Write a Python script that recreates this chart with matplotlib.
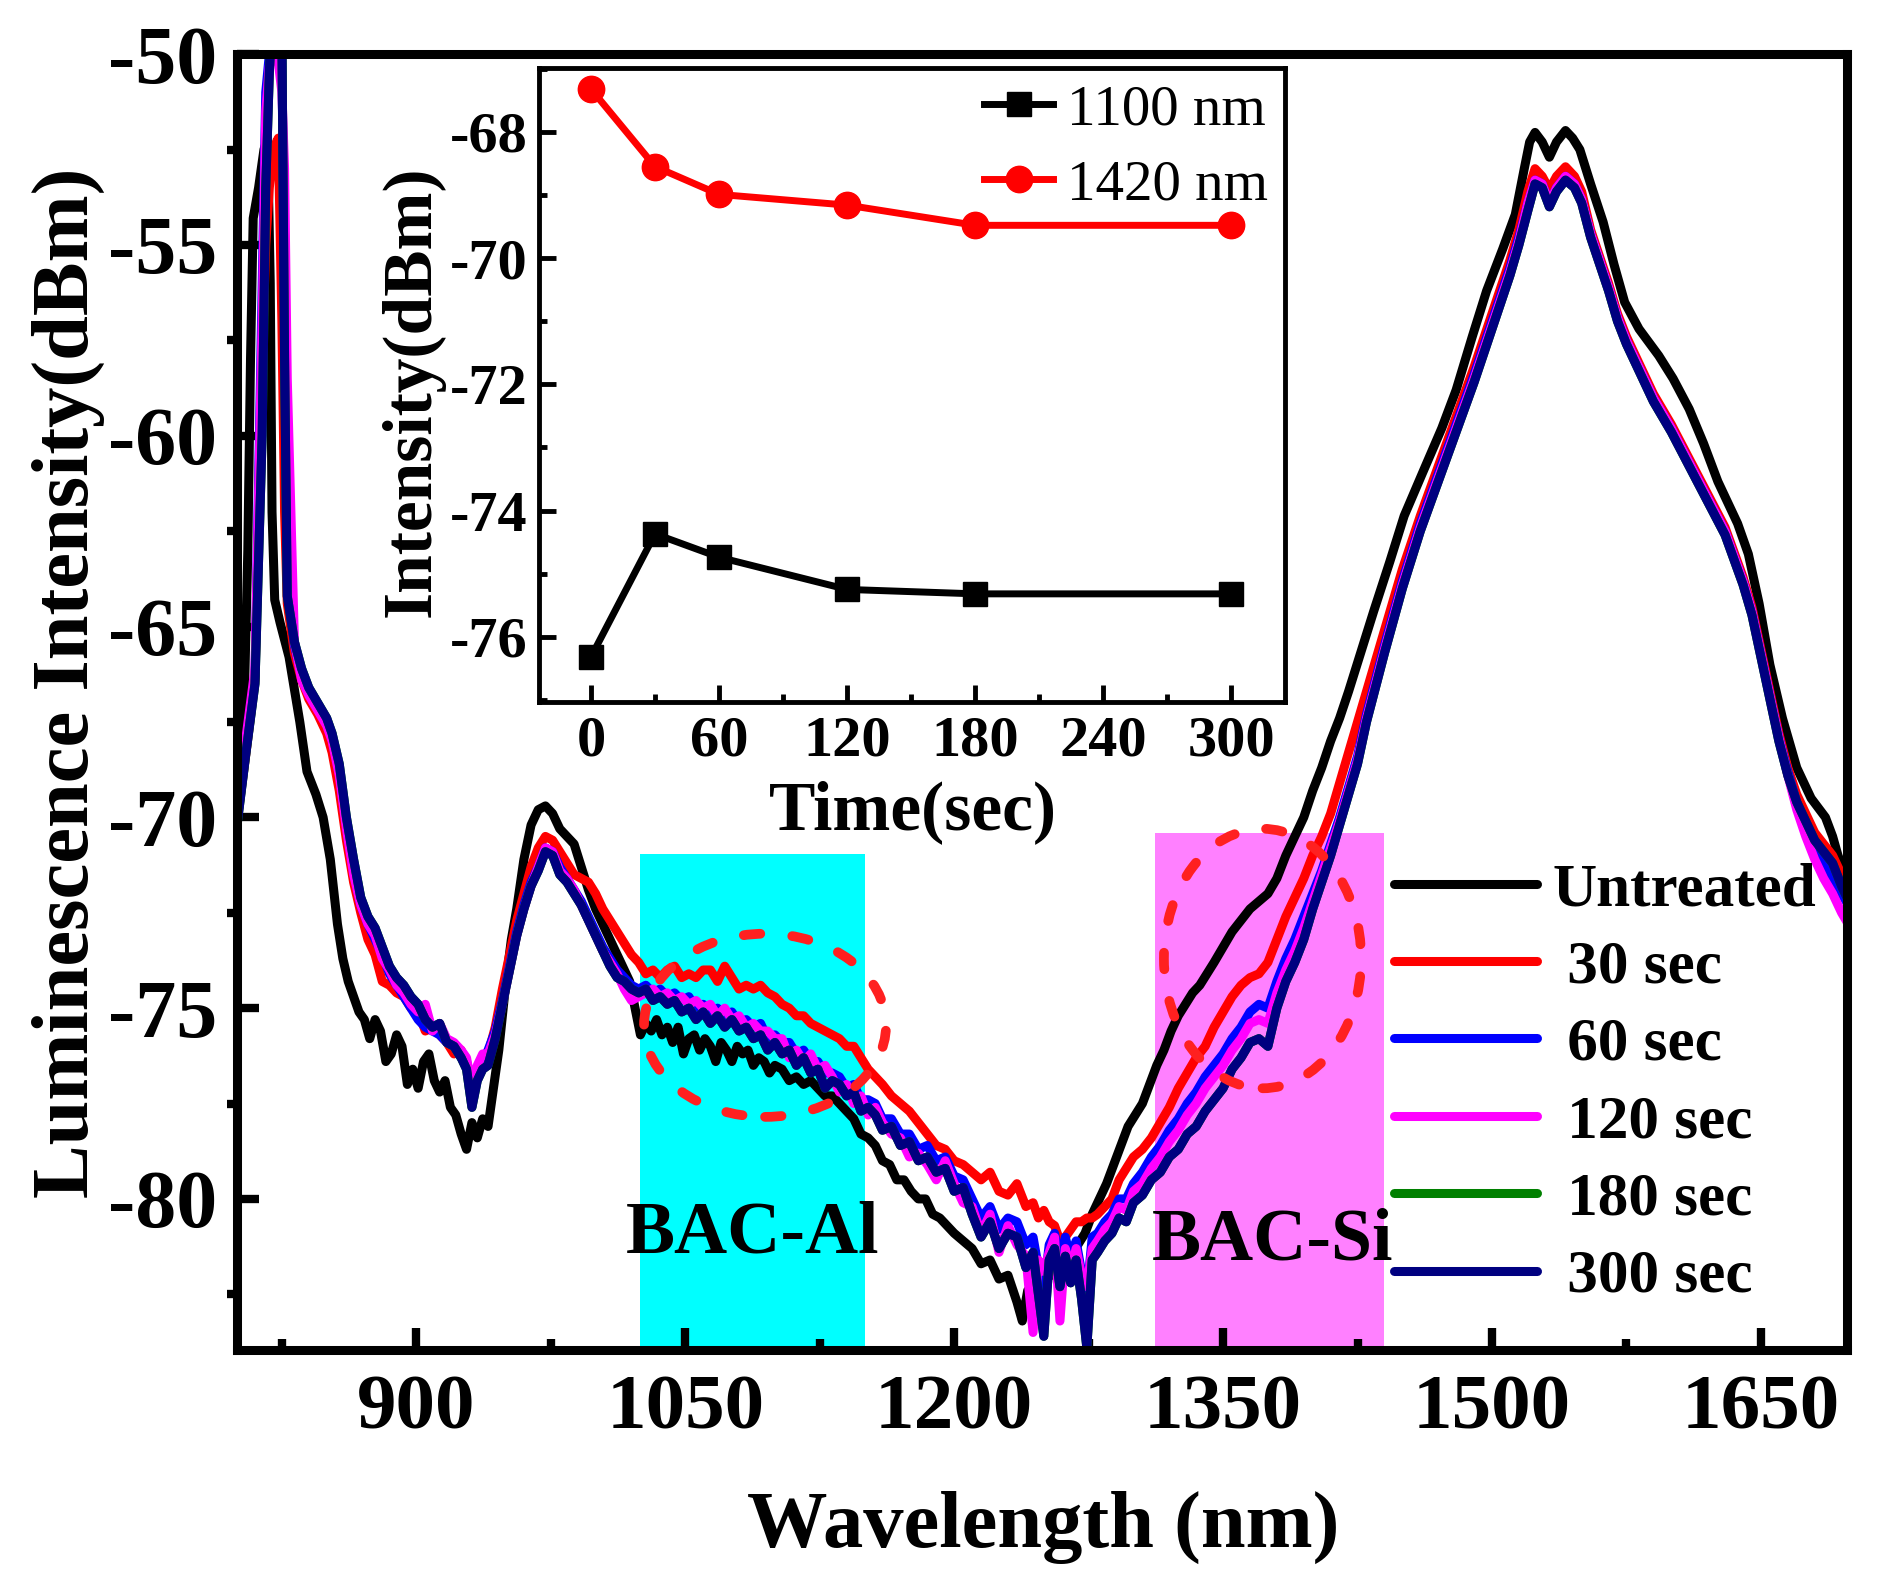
import matplotlib
matplotlib.use('Agg')
import matplotlib.pyplot as plt
from matplotlib.patches import Ellipse, Rectangle
from matplotlib.ticker import MultipleLocator

plt.rcParams['font.family'] = ['Liberation Serif', 'DejaVu Serif']
plt.rcParams['axes.unicode_minus'] = False

# ---------------- data: untreated spectrum ----------------
wl_untreated = [
    800, 802, 804, 806, 807.5, 809, 812, 815, 817, 818.5,
    819.5, 821, 824, 829, 835, 839, 844, 848, 852, 856,
    859, 862, 865, 868, 871, 874, 877, 880, 883, 886,
    889, 892, 895, 898, 901, 904, 907, 910, 913, 916,
    919, 922, 925, 928, 931, 934, 937, 940, 943, 946,
    950, 953, 956, 960, 964, 968, 972, 976, 980, 984,
    988, 992, 996, 1000, 1005, 1010, 1015, 1019, 1022, 1025,
    1028, 1031, 1034, 1037, 1040, 1043, 1046, 1049, 1052, 1055,
    1058, 1061, 1064, 1067, 1070, 1073, 1076, 1079, 1082, 1085,
    1088, 1091, 1094, 1097, 1100, 1104, 1108, 1112, 1116, 1120,
    1124, 1128, 1132, 1136, 1140, 1144, 1148, 1152, 1156, 1160,
    1164, 1168, 1172, 1176, 1180, 1184, 1188, 1192, 1196, 1200,
    1205, 1210, 1215, 1220, 1225, 1230, 1235, 1238, 1241, 1245,
    1249, 1253, 1257, 1261, 1265, 1269, 1273, 1277, 1281, 1285,
    1289, 1293, 1297, 1301, 1305, 1309, 1313, 1317, 1321, 1325,
    1329, 1333, 1337, 1341, 1345, 1350, 1355, 1360, 1365, 1370,
    1375, 1380, 1385, 1390, 1395, 1400, 1405, 1410, 1415, 1420,
    1426, 1434, 1443, 1451, 1461, 1472, 1480, 1489, 1497, 1506,
    1513, 1518, 1521, 1524, 1528, 1532, 1536, 1541, 1545, 1549,
    1555, 1562, 1568, 1574, 1582, 1593, 1601, 1610, 1618, 1626,
    1637, 1643, 1649, 1655, 1662, 1670, 1678, 1686, 1690, 1693,
    1697, 1700]
untreated = [
    -70.2, -68.5, -67.0, -63.0, -58.0, -54.3, -53.5, -52.5, -52.2, -56.0,
    -62.0, -64.3, -64.9, -65.8, -67.5, -68.8, -69.4, -70.0, -71.1, -72.8,
    -73.7, -74.3, -74.7, -75.1, -75.3, -75.8, -75.3, -75.6, -76.4, -76.2,
    -75.7, -76.0, -77.0, -76.6, -77.1, -76.4, -76.2, -76.9, -77.2, -76.9,
    -77.6, -77.8, -78.3, -78.7, -78.0, -78.4, -77.9, -78.1, -77.1, -76.1,
    -74.3, -73.2, -72.4, -71.1, -70.2, -69.8, -69.7, -69.9, -70.3, -70.5,
    -70.7, -71.3, -71.9, -72.4, -72.9, -73.4, -73.9, -74.3, -75.0, -75.7,
    -75.4, -75.6, -75.3, -75.7, -75.5, -75.9, -75.5, -76.2, -75.8, -75.7,
    -76.1, -75.8, -76.0, -76.4, -75.9, -76.1, -76.4, -76.0, -76.2, -76.1,
    -76.5, -76.3, -76.4, -76.7, -76.5, -76.6, -76.9, -76.8, -77.0, -76.9,
    -77.1, -77.3, -77.3, -77.5, -77.7, -77.9, -78.3, -78.4, -78.6, -79.0,
    -79.1, -79.5, -79.5, -79.8, -80.0, -80.0, -80.4, -80.5, -80.7, -80.9,
    -81.1, -81.3, -81.7, -81.6, -82.1, -82.0, -82.7, -83.2, -82.4, -82.5,
    -82.1, -82.0, -82.0, -81.6, -81.5, -81.2, -80.9, -80.4, -80.0, -79.6,
    -79.1, -78.6, -78.1, -77.8, -77.5, -77.0, -76.5, -76.1, -75.6, -75.2,
    -74.9, -74.6, -74.4, -74.1, -73.8, -73.4, -73.0, -72.7, -72.4, -72.2,
    -72.0, -71.6, -71.0, -70.5, -70.0, -69.3, -68.7, -68.0, -67.4, -66.7,
    -65.8, -64.6, -63.3, -62.1, -61.0, -59.8, -58.8, -57.4, -56.2, -55.1,
    -54.2, -53.0, -52.3, -52.05, -52.3, -52.7, -52.3, -52.0, -52.2, -52.5,
    -53.4, -54.4, -55.5, -56.5, -57.2, -57.9, -58.5, -59.3, -60.2, -61.2,
    -62.3, -63.1, -64.4, -66.0, -67.4, -68.7, -69.5, -70.0, -70.5, -71.0,
    -71.5, -71.8]

# ---------------- data: treated spectra (common wavelength grid) ----------------
wl_treated = [
    800, 805, 810, 814, 816, 818, 820, 823, 825, 826.5,
    828, 832, 836, 840, 845, 850, 853, 857, 861, 865,
    869, 873, 877, 881, 885, 889, 893, 897, 901, 905,
    909, 913, 917, 921, 925, 928, 931, 934, 937, 940,
    944, 948, 952, 956, 960, 964, 968, 972, 976, 980,
    984, 988, 992, 996, 1000, 1004, 1008, 1012, 1016, 1020,
    1024, 1028, 1032, 1036, 1040, 1044, 1048, 1052, 1056, 1060,
    1064, 1068, 1072, 1076, 1080, 1084, 1088, 1092, 1096, 1100,
    1104, 1108, 1112, 1116, 1120, 1124, 1128, 1132, 1136, 1140,
    1144, 1148, 1152, 1156, 1160, 1165, 1170, 1175, 1180, 1185,
    1190, 1195, 1200, 1205, 1210, 1215, 1220, 1225, 1230, 1235,
    1240, 1244, 1247, 1250, 1253, 1256, 1259, 1262, 1265, 1268,
    1271, 1274, 1277, 1280, 1284, 1288, 1292, 1296, 1300, 1305,
    1310, 1315, 1320, 1325, 1330, 1335, 1340, 1345, 1350, 1355,
    1360, 1365, 1370, 1375, 1380, 1385, 1390, 1395, 1400, 1405,
    1410, 1415, 1420, 1425, 1430, 1435, 1440, 1450, 1460, 1470,
    1480, 1490, 1500, 1510, 1515, 1520, 1524, 1528, 1532, 1536,
    1541, 1546, 1550, 1555, 1560, 1565, 1570, 1575, 1580, 1590,
    1600, 1610, 1620, 1630, 1640, 1645, 1650, 1655, 1660, 1665,
    1670, 1675, 1680, 1685, 1690, 1695, 1700]

sec30 = [
    -70.1, -68.3, -66.4, -58.0, -55.0, -53.5, -52.5, -52.2, -57.0, -62.0,
    -64.4, -65.7, -66.4, -66.9, -67.3, -67.8, -68.3, -69.3, -70.6, -71.7,
    -72.5, -73.2, -73.6, -74.3, -74.4, -74.6, -74.7, -75.0, -75.1, -75.6,
    -75.5, -75.7, -75.9, -76.2, -76.1, -76.5, -76.8, -76.6, -76.3, -76.2,
    -75.5, -74.5, -73.6, -72.7, -72.0, -71.3, -70.8, -70.5, -70.6, -70.9,
    -71.2, -71.5, -71.6, -71.7, -72.0, -72.4, -72.7, -73.0, -73.3, -73.6,
    -73.8, -74.1, -74.0, -74.2, -74.0, -73.9, -74.2, -74.1, -74.2, -74.0,
    -74.0, -74.3, -73.9, -74.2, -74.5, -74.4, -74.5, -74.4, -74.6, -74.7,
    -74.9, -75.0, -75.2, -75.2, -75.4, -75.5, -75.6, -75.7, -75.8, -76.0,
    -76.0, -76.3, -76.6, -76.8, -77.0, -77.3, -77.5, -77.7, -78.0, -78.3,
    -78.6, -78.7, -79.0, -79.1, -79.3, -79.5, -79.3, -79.8, -79.9, -79.6,
    -80.2, -80.1, -80.5, -80.3, -80.6, -80.7, -81.1, -81.0, -80.8, -80.6,
    -80.6, -80.5, -80.5, -80.4, -80.2, -80.0, -79.5, -79.2, -78.9, -78.7,
    -78.4, -78.0, -77.6, -77.1, -76.7, -76.3, -76.0, -75.5, -75.1, -74.7,
    -74.4, -74.2, -74.1, -73.8, -73.2, -72.6, -72.1, -71.6, -71.0, -70.5,
    -69.9, -69.1, -68.3, -67.5, -66.7, -65.9, -65.1, -63.5, -62.1, -60.8,
    -59.5, -58.2, -56.8, -55.4, -54.6, -53.6, -53.0, -53.2, -53.55, -53.2,
    -52.95, -53.2, -53.6, -54.6, -55.3, -56.0, -56.8, -57.4, -57.9, -58.9,
    -59.7, -60.6, -61.5, -62.4, -63.7, -64.5, -65.6, -66.7, -67.8, -68.7,
    -69.4, -69.9, -70.4, -70.7, -71.0, -71.5, -72.0]

sec60 = [
    -70.1, -68.1, -66.3, -56.0, -51.0, -50.0, -48.5, -48.3, -50.0, -57.0,
    -63.8, -65.5, -66.3, -66.7, -67.1, -67.5, -67.9, -68.8, -70.2, -71.4,
    -72.3, -72.8, -73.2, -73.6, -74.1, -74.4, -74.7, -75.0, -75.3, -75.5,
    -75.6, -75.7, -75.9, -76.0, -76.3, -76.4, -76.9, -76.7, -76.4, -76.1,
    -75.6, -74.8, -73.9, -73.0, -72.3, -71.7, -71.3, -70.8, -70.9, -71.3,
    -71.6, -71.9, -72.2, -72.6, -73.0, -73.4, -73.7, -74.0, -74.2, -74.4,
    -74.5, -74.4, -74.6, -74.5, -74.7, -74.6, -74.8, -74.7, -75.0, -74.9,
    -75.1, -75.0, -75.2, -75.1, -75.4, -75.3, -75.5, -75.4, -75.8, -75.7,
    -75.9, -75.9, -76.2, -76.1, -76.4, -76.4, -76.7, -76.7, -76.8, -77.1,
    -77.0, -77.4, -77.4, -77.5, -77.9, -77.9, -78.3, -78.3, -78.7, -78.6,
    -79.0, -78.9, -79.4, -79.5, -80.0, -80.5, -80.2, -80.8, -80.5, -80.6,
    -81.2, -81.0, -81.8, -82.4, -81.2, -80.9, -81.7, -81.0, -81.6, -81.1,
    -81.9, -82.5, -81.0, -80.9, -80.6, -80.4, -80.0, -80.0, -79.6, -79.3,
    -78.9, -78.6, -78.2, -77.9, -77.5, -77.2, -76.8, -76.5, -76.2, -75.8,
    -75.5, -75.1, -74.9, -75.0, -74.3, -73.7, -73.2, -72.6, -72.0, -71.4,
    -70.7, -70.0, -69.2, -68.4, -67.3, -66.4, -65.5, -63.8, -62.3, -61.0,
    -59.7, -58.4, -57.0, -55.6, -54.8, -53.9, -53.3, -53.4, -53.9, -53.5,
    -53.2, -53.4, -53.8, -54.7, -55.4, -56.1, -56.9, -57.5, -58.0, -59.0,
    -59.8, -60.7, -61.6, -62.5, -63.8, -64.6, -65.7, -66.8, -67.9, -68.8,
    -69.6, -70.2, -70.8, -71.2, -71.6, -72.0, -72.4]

sec120 = [
    -70.0, -67.9, -66.1, -57.0, -51.5, -50.3, -50.0, -50.2, -51.0, -53.0,
    -58.5, -65.4, -66.4, -66.8, -67.2, -67.6, -68.0, -68.9, -70.3, -71.5,
    -72.3, -72.8, -73.1, -73.7, -74.0, -74.4, -74.6, -74.9, -75.1, -74.9,
    -75.6, -75.4, -75.8, -75.9, -76.1, -76.3, -77.1, -76.5, -76.2, -76.2,
    -75.7, -74.9, -74.0, -73.1, -72.4, -71.8, -71.3, -70.8, -70.9, -71.4,
    -71.6, -71.9, -72.3, -72.7, -73.1, -73.5, -73.8, -74.1, -74.5, -74.8,
    -74.7, -74.6, -74.5, -74.7, -74.6, -74.8, -74.7, -74.9, -74.8, -75.0,
    -74.9, -75.2, -75.0, -75.3, -75.2, -75.5, -75.4, -75.6, -75.6, -75.8,
    -75.8, -76.3, -76.1, -76.4, -76.2, -76.6, -76.5, -76.8, -77.2, -77.0,
    -77.5, -77.3, -77.8, -77.6, -78.0, -78.3, -78.4, -78.9, -78.8, -79.1,
    -79.5, -79.0, -79.6, -80.1, -80.2, -80.9, -80.4, -81.4, -80.7, -81.2,
    -81.5, -83.5, -81.6, -81.9, -81.4, -81.0, -83.2, -81.3, -81.9, -81.3,
    -82.0, -82.3, -81.3, -81.1, -80.8, -80.6, -80.2, -80.3, -79.8, -79.6,
    -79.2, -78.9, -78.5, -78.2, -77.8, -77.5, -77.1, -76.8, -76.5, -76.1,
    -75.8, -75.4, -75.3, -75.4, -74.6, -74.0, -73.5, -72.9, -72.2, -71.5,
    -70.8, -70.1, -69.3, -68.5, -67.4, -66.5, -65.6, -63.9, -62.4, -61.1,
    -59.8, -58.5, -57.1, -55.7, -54.9, -53.9, -53.3, -53.4, -53.9, -53.5,
    -53.2, -53.4, -53.8, -54.7, -55.4, -56.1, -56.9, -57.5, -58.0, -59.0,
    -59.8, -60.7, -61.6, -62.5, -63.8, -64.6, -65.7, -66.8, -67.9, -68.9,
    -69.8, -70.5, -71.1, -71.6, -72.0, -72.5, -72.9]

# 180 sec trace lies hidden under the 300 sec trace
sec180 = [
    -70.2, -68.3, -66.5, -60.0, -53.5, -50.5, -48.5, -48.0, -49.5, -58.0,
    -64.2, -65.4, -66.1, -66.6, -67.0, -67.4, -67.8, -68.6, -70.0, -71.1,
    -72.1, -72.6, -72.9, -73.4, -73.9, -74.2, -74.4, -74.7, -74.9, -75.3,
    -75.5, -75.4, -75.9, -76.0, -76.3, -76.6, -77.6, -76.9, -76.6, -76.5,
    -75.8, -74.9, -74.0, -73.1, -72.4, -71.8, -71.4, -70.9, -71.0, -71.5,
    -71.7, -72.0, -72.3, -72.7, -73.1, -73.5, -73.9, -74.2, -74.3, -74.5,
    -74.6, -74.5, -74.8, -74.7, -74.9, -74.8, -75.1, -75.0, -75.3, -75.1,
    -75.4, -75.2, -75.5, -75.3, -75.6, -75.5, -75.8, -75.7, -76.1, -75.9,
    -76.2, -76.1, -76.5, -76.3, -76.7, -76.6, -77.1, -76.9, -77.0, -77.3,
    -77.2, -77.7, -77.6, -77.8, -78.2, -78.1, -78.6, -78.5, -79.0, -78.9,
    -79.3, -79.2, -79.8, -79.7, -80.4, -81.0, -80.6, -81.3, -80.9, -81.0,
    -81.8, -81.4, -82.5, -83.6, -81.6, -81.3, -82.3, -81.5, -82.2, -81.6,
    -82.6, -83.9, -81.6, -81.4, -81.1, -80.9, -80.5, -80.6, -80.1, -79.9,
    -79.5, -79.3, -78.9, -78.7, -78.3, -78.1, -77.7, -77.4, -77.1, -76.6,
    -76.3, -75.9, -75.8, -76.0, -75.0, -74.3, -73.8, -73.2, -72.4, -71.7,
    -71.0, -70.2, -69.4, -68.6, -67.5, -66.6, -65.7, -64.0, -62.5, -61.2,
    -59.9, -58.6, -57.2, -55.8, -55.0, -54.1, -53.4, -53.5, -54.0, -53.6,
    -53.3, -53.5, -53.9, -54.8, -55.5, -56.2, -57.0, -57.6, -58.1, -59.1,
    -59.9, -60.8, -61.7, -62.6, -63.9, -64.7, -65.8, -66.9, -68.0, -68.9,
    -69.6, -70.1, -70.6, -70.9, -71.2, -71.8, -72.3]

sec300 = [
    -70.2, -68.3, -66.5, -60.0, -53.5, -50.5, -48.5, -48.0, -49.5, -58.0,
    -64.2, -65.4, -66.1, -66.6, -67.0, -67.4, -67.8, -68.6, -70.0, -71.1,
    -72.1, -72.6, -72.9, -73.4, -73.9, -74.2, -74.4, -74.7, -74.9, -75.3,
    -75.5, -75.4, -75.9, -76.0, -76.3, -76.6, -77.6, -76.9, -76.6, -76.5,
    -75.8, -74.9, -74.0, -73.1, -72.4, -71.8, -71.4, -70.9, -71.0, -71.5,
    -71.7, -72.0, -72.3, -72.7, -73.1, -73.5, -73.9, -74.2, -74.3, -74.5,
    -74.6, -74.5, -74.8, -74.7, -74.9, -74.8, -75.1, -75.0, -75.3, -75.1,
    -75.4, -75.2, -75.5, -75.3, -75.6, -75.5, -75.8, -75.7, -76.1, -75.9,
    -76.2, -76.1, -76.5, -76.3, -76.7, -76.6, -77.1, -76.9, -77.0, -77.3,
    -77.2, -77.7, -77.6, -77.8, -78.2, -78.1, -78.6, -78.5, -79.0, -78.9,
    -79.3, -79.2, -79.8, -79.7, -80.4, -81.0, -80.6, -81.3, -80.9, -81.0,
    -81.8, -81.4, -82.5, -83.6, -81.6, -81.3, -82.3, -81.5, -82.2, -81.6,
    -82.6, -83.9, -81.6, -81.4, -81.1, -80.9, -80.5, -80.6, -80.1, -79.9,
    -79.5, -79.3, -78.9, -78.7, -78.3, -78.1, -77.7, -77.4, -77.1, -76.6,
    -76.3, -75.9, -75.8, -76.0, -75.0, -74.3, -73.8, -73.2, -72.4, -71.7,
    -71.0, -70.2, -69.4, -68.6, -67.5, -66.6, -65.7, -64.0, -62.5, -61.2,
    -59.9, -58.6, -57.2, -55.8, -55.0, -54.1, -53.4, -53.5, -54.0, -53.6,
    -53.3, -53.5, -53.9, -54.8, -55.5, -56.2, -57.0, -57.6, -58.1, -59.1,
    -59.9, -60.8, -61.7, -62.6, -63.9, -64.7, -65.8, -66.9, -68.0, -68.9,
    -69.6, -70.1, -70.6, -70.9, -71.2, -71.8, -72.3]

series_labels = ['Untreated', ' 30 sec', ' 60 sec', ' 120 sec', ' 180 sec', ' 300 sec']
series_colors = ['#000000', '#FF0000', '#0000FF', '#FF00FF', '#008000', '#000080']

# highlighted bands (x0, x1, top) and annotation ellipses (cx, cy, w, h)
band_al = (1024.5, 1150, -70.95)
band_si = (1312, 1440, -70.4)
ellipse_al = (1094.5, -75.45, 135, 4.8)
ellipse_si = (1372, -73.7, 110, 6.8)

# ---------------- inset data ----------------
time_s = [0, 30, 60, 120, 180, 300]
int_1100 = [-76.32, -74.37, -74.74, -75.25, -75.32, -75.32]
int_1420 = [-67.32, -68.55, -68.99, -69.16, -69.48, -69.48]

# ---------------- figure ----------------
fig = plt.figure(figsize=(18.77, 15.71), dpi=100)
fig.patch.set_facecolor('white')
ax = fig.add_axes([0.1263, 0.1409, 0.8577, 0.8246])

for (x0, x1, top), col in [(band_al, '#00FFFF'), (band_si, '#FF80FF')]:
    ax.add_patch(Rectangle((x0, -95), x1 - x0, top + 95, facecolor=col,
                           edgecolor='none', zorder=0.5))

all_y = [untreated, sec30, sec60, sec120, sec180, sec300]
all_x = [wl_untreated] + [wl_treated] * 5
handles = []
for xs, ys, col, lab in zip(all_x, all_y, series_colors, series_labels):
    ln, = ax.plot(xs, ys, color=col, lw=6.5, solid_joinstyle='round',
                  solid_capstyle='round', label=lab, zorder=2)
    handles.append(ln)

for (cx, cy, w, h) in [ellipse_al, ellipse_si]:
    e = Ellipse((cx, cy), w, h, fill=False, edgecolor='#FF2020', lw=7,
                linestyle=(0, (1.7, 3.3)), capstyle='round', zorder=3)
    ax.add_patch(e)

ax.text(1017, -81.4, 'BAC-Al', fontsize=53, fontweight='bold', zorder=4)
ax.text(1310, -81.6, 'BAC-Si', fontsize=53, fontweight='bold', zorder=4)

ax.set_xlim(800, 1698)
ax.set_ylim(-83.95, -50)
ax.xaxis.set_major_locator(MultipleLocator(150))
ax.xaxis.set_minor_locator(MultipleLocator(75))
ax.yaxis.set_major_locator(MultipleLocator(5))
ax.yaxis.set_minor_locator(MultipleLocator(2.5))
ax.tick_params(axis='x', which='major', direction='in', length=16, width=6,
               pad=18, labelsize=57)
ax.tick_params(axis='x', which='minor', direction='in', length=8, width=6)
ax.tick_params(axis='y', which='major', direction='in', length=16, width=6,
               pad=14, labelsize=59)
ax.tick_params(axis='y', which='minor', direction='out', length=7, width=6)
for lab in ax.get_xticklabels() + ax.get_yticklabels():
    lab.set_fontweight('bold')
for sp in ax.spines.values():
    sp.set_linewidth(6.5)

ax.set_xlabel('Wavelength (nm)', fontsize=58, fontweight='bold')
ax.xaxis.label.set_va('baseline')
ax.xaxis.set_label_coords(0.501, -0.152)
ax.set_ylabel('Luminescence Intensity(dBm)', fontsize=58, fontweight='bold')
ax.yaxis.label.set_va('baseline')
ax.yaxis.set_label_coords(-0.0926, 0.5147)

leg = ax.legend(handles=handles, loc='upper left', bbox_to_anchor=(0.7427, 0.4513),
                bbox_transform=fig.transFigure, frameon=False,
                prop={'size': 44, 'weight': 'bold'}, handlelength=2.34,
                handletextpad=0.25, labelspacing=0.35, borderpad=0,
                borderaxespad=0)
leg.set_zorder(5)

# ---------------- inset ----------------
ins = fig.add_axes([0.2870, 0.5533, 0.3975, 0.4037])
ins.plot(time_s, int_1100, '-s', color='black', lw=5, ms=17, label='1100 nm')
ins.plot(time_s, int_1420, '-o', color='red', lw=5, ms=19, label='1420 nm')
ins.set_xlim(-24.5, 325)
ins.set_ylim(-77.03, -66.98)
ins.xaxis.set_major_locator(MultipleLocator(60))
ins.xaxis.set_minor_locator(MultipleLocator(30))
ins.yaxis.set_major_locator(MultipleLocator(2))
ins.yaxis.set_minor_locator(MultipleLocator(1))
ins.tick_params(axis='both', which='major', direction='in', length=12, width=3.5,
                labelsize=42)
ins.tick_params(axis='both', which='minor', direction='in', length=6, width=3.5)
ins.tick_params(axis='x', which='major', pad=10)
ins.tick_params(axis='y', which='major', pad=8)
for lab in ins.get_xticklabels() + ins.get_yticklabels():
    lab.set_fontweight('bold')
for sp in ins.spines.values():
    sp.set_linewidth(3.5)
ins.set_xlabel('Time(sec)', fontsize=50, fontweight='bold')
ins.xaxis.label.set_va('baseline')
ins.xaxis.set_label_coords(0.5014, -0.2006)
ins.set_ylabel('Intensity(dBm)', fontsize=50, fontweight='bold')
ins.yaxis.label.set_va('baseline')
ins.yaxis.set_label_coords(-0.1457, 0.49)
ins.legend(loc='upper right', bbox_to_anchor=(0.6755, 0.9465),
           bbox_transform=fig.transFigure, frameon=False,
           prop={'size': 41, 'weight': 'normal'}, handlelength=1.2,
           handletextpad=0.25, labelspacing=0.41, borderpad=0, borderaxespad=0)

fig.savefig('out.png', dpi=100, facecolor='white')
